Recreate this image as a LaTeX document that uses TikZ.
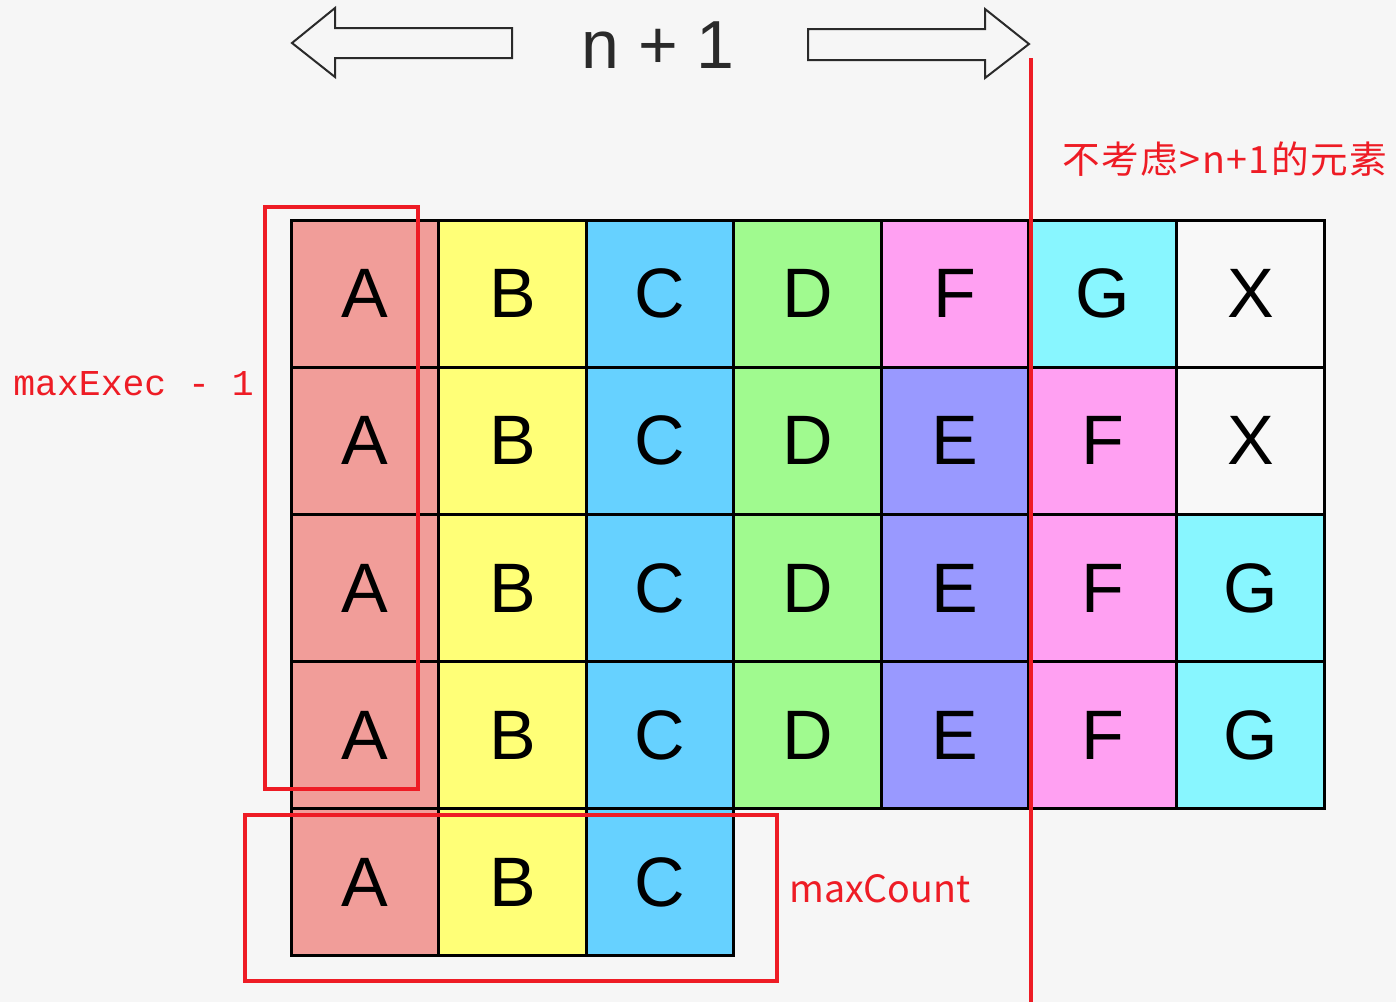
\documentclass[tikz,border=0pt]{standalone}
\usepackage{fontspec}
\setmainfont{Liberation Sans}
\setmonofont{Liberation Mono}
\newfontfamily\cjk{Noto Sans CJK SC}
\newfontfamily\cjkwide[LetterSpace=4]{Noto Sans CJK SC}
\definecolor{bg}{HTML}{F6F6F6}
\definecolor{cA}{HTML}{F19D99}
\definecolor{cB}{HTML}{FFFF77}
\definecolor{cC}{HTML}{66D1FF}
\definecolor{cD}{HTML}{A0FA8F}
\definecolor{cE}{HTML}{9999FF}
\definecolor{cF}{HTML}{FFA0F2}
\definecolor{cG}{HTML}{88F6FF}
\definecolor{cX}{HTML}{F8F8F8}
\definecolor{myred}{HTML}{EE1C25}
\definecolor{ink}{HTML}{2A2A2A}
\tikzset{
  cell/.style={draw=black, line width=1.5pt, minimum width=73.75pt, minimum height=73.5pt,
    inner sep=0pt, font=\fontsize{35}{35}\selectfont, text=black},
  redbox/.style={draw=myred, line width=2.2pt},
  bigarrow/.style={draw=ink, line width=1pt, fill=bg},
}
\begin{document}
\begin{tikzpicture}[x=0.5pt,y=-0.5pt]
\fill[bg] (0,0) rectangle (1396,1002);
\useasboundingbox (0,0) rectangle (1396,1002);
% grid
\def\xs{291}\def\w{147.6}\def\ys{220}\def\h{147.2}
\foreach \r/\row in {1/{A,B,C,D,F,G,X},2/{A,B,C,D,E,F,X},3/{A,B,C,D,E,F,G},4/{A,B,C,D,E,F,G},5/{A,B,C}}{
  \foreach \L [count=\c] in \row {
    \node[cell, fill=c\L] (cell-\r-\c) at ({\xs+(\c-0.5)*\w},{\ys+(\r-0.5)*\h}) {\L};
  }
}
% red boxes
\draw[redbox] (265,207) rectangle (418,789);
\draw[redbox] (245,815) rectangle (777,981);
% red line
\coordinate (lt) at (1031,58);
\coordinate (lb) at (1031,1002);
\draw[myred, line width=2.2pt] (lt) -- (lb);
% top arrows
\draw[bigarrow] (292,43) -- (335,8) -- (335,28) -- (512,28) -- (512,58) -- (335,58) -- (335,77) -- cycle;
\draw[bigarrow] (1029,44) -- (985,9) -- (985,29) -- (808,29) -- (808,60) -- (985,60) -- (985,78) -- cycle;
\node[text=ink, font=\fontsize{34}{34}\selectfont, anchor=base] (n1) at (658,68) {n + 1};
% labels
\node[text=myred, font=\ttfamily\fontsize{18.2}{18}\selectfont, anchor=base west, inner sep=0pt] (me) at (13,395) {maxExec - 1};
\node[text=myred, font=\cjk\fontsize{18.8}{18}\selectfont, anchor=base west, inner sep=0pt] (mc) at (789,902) {maxCount};
\node[text=myred, font=\cjkwide\fontsize{18.8}{18}\selectfont, anchor=base west, inner sep=0pt] (ex) at (1062,173) {不考虑>n+1的元素};
\end{tikzpicture}
\end{document}
